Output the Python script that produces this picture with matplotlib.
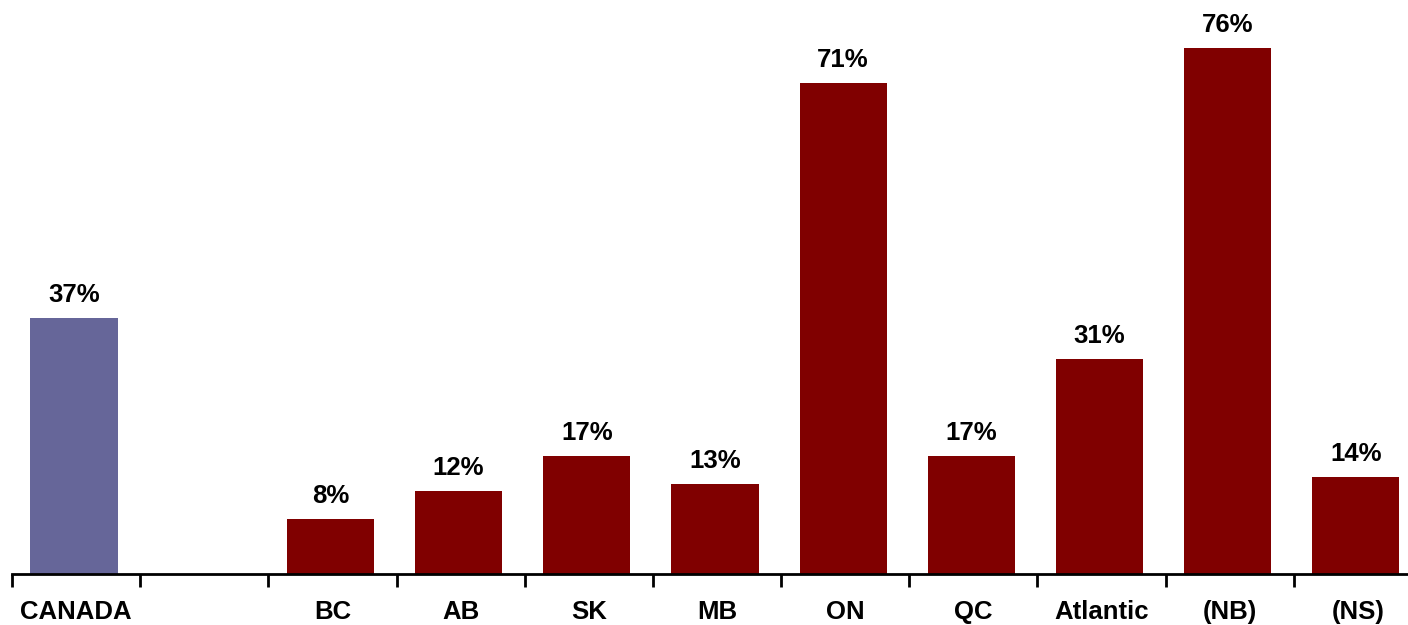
import matplotlib.pyplot as plt
import numpy as np

plt.rcParams["font.family"] = ["Liberation Sans", "DejaVu Sans"]

categories = ["CANADA", "", "BC", "AB", "SK", "MB", "ON", "QC", "Atlantic", "(NB)", "(NS)"]
values = [37, None, 8, 12, 17, 13, 71, 17, 31, 76, 14]
bar_colors = ["#666699", None] + ["#800000"] * 9

fig = plt.figure(figsize=(14.08, 6.25), dpi=100)
fig.patch.set_facecolor("white")
# axes spans 11 category slots, the last one runs past the right edge
ax = fig.add_axes([12 / 1408, 51 / 625, 1410 / 1408, 553.6 / 625])
ax.set_facecolor("none")

x = np.arange(len(categories))
for xi, v, c in zip(x, values, bar_colors):
    if v is None:
        continue
    # bars sit a touch left of the slot centre in the original
    ax.bar(xi - 0.016, v, width=0.68, color=c, linewidth=0)
    ax.annotate(f"{v}%", (xi - 0.016, v), xytext=(0, 8), textcoords="offset points",
                ha="center", va="bottom", fontsize=18.5, weight="bold", color="black")

ax.set_xlim(-0.5, len(categories) - 0.5)
ax.set_ylim(0, 80)

for side in ("top", "right", "left"):
    ax.spines[side].set_visible(False)
ax.spines["bottom"].set_linewidth(2)
ax.spines["bottom"].set_color("black")
ax.set_yticks([])

# boundary ticks (no labels), category labels at the centres
ax.set_xticks(np.arange(len(categories) + 1) - 0.5)
ax.set_xticklabels([])
ax.tick_params(axis="x", which="major", length=9, width=2, color="black", direction="out")
ax.set_xticks(x, minor=True)
ax.set_xticklabels(categories, minor=True, fontsize=18.5, weight="bold")
ax.tick_params(axis="x", which="minor", length=0, pad=19)

fig.savefig("out.png", dpi=100, facecolor="white")
